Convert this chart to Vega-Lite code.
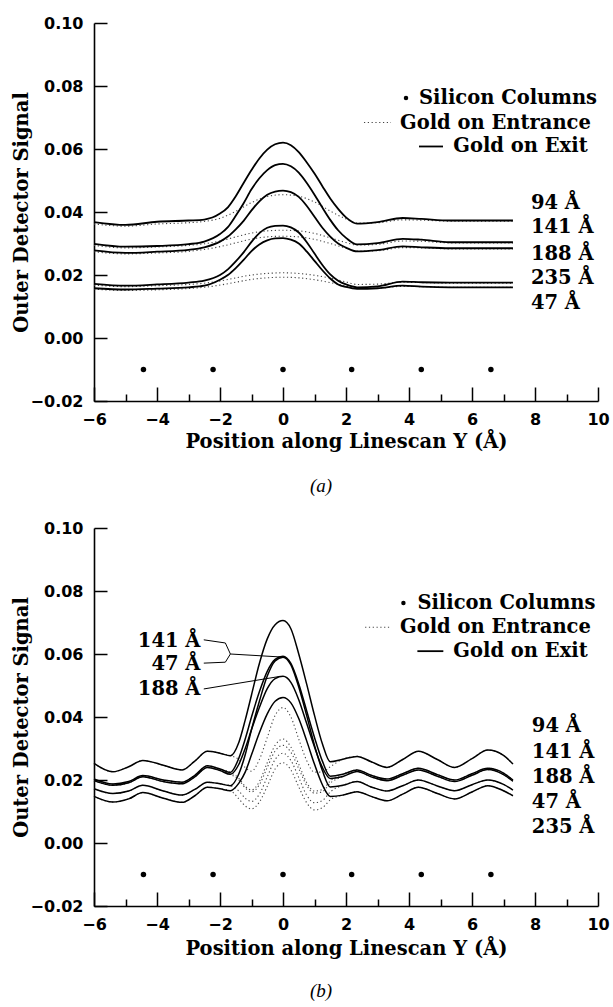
{
"$schema": "https://vega.github.io/schema/vega-lite/v6.json",
"padding": {"left": 11, "top": 15, "right": 0, "bottom": 0},
"background": "white",
"spacing": 24,
"config": {
 "view": {"stroke": null},
 "axis": {"domainColor": "black", "domainWidth": 1.6, "tickSize": 0, "gridColor": "black", "gridWidth": 1.5, "gridOpacity": 1, "labelFont": "DejaVu Sans", "labelFontWeight": "bold", "labelFontSize": 16, "labelColor": "black", "titleFont": "DejaVu Serif", "titleFontWeight": "bold", "titleFontSize": 19.5, "titleColor": "black"},
 "text": {"font": "DejaVu Serif", "fontWeight": "bold", "fontSize": 19.5, "color": "black", "baseline": "middle"},
 "title": {"font": "Liberation Serif", "fontStyle": "italic", "fontWeight": "normal", "fontSize": 19, "color": "black"}
},
"datasets": {
 "columns": [{"x": -4.43, "y": -0.01}, {"x": -2.22, "y": -0.01}, {"x": 0, "y": -0.01}, {"x": 2.18, "y": -0.01}, {"x": 4.39, "y": -0.01}, {"x": 6.6, "y": -0.01}],
 "a_exit": [
  {"s":"94","x":-6,"y":0.0368},{"s":"94","x":-5,"y":0.0359},{"s":"94","x":-4,"y":0.0369},{"s":"94","x":-3,"y":0.0373},{"s":"94","x":-2.5,"y":0.0376},{"s":"94","x":-2,"y":0.0395},{"s":"94","x":-1.75,"y":0.0415},{"s":"94","x":-1.5,"y":0.045},{"s":"94","x":-1.25,"y":0.0492},{"s":"94","x":-1,"y":0.0533},{"s":"94","x":-0.75,"y":0.057},{"s":"94","x":-0.5,"y":0.0598},{"s":"94","x":-0.25,"y":0.0615},{"s":"94","x":0,"y":0.062},{"s":"94","x":0.25,"y":0.0612},{"s":"94","x":0.5,"y":0.059},{"s":"94","x":0.75,"y":0.0558},{"s":"94","x":1,"y":0.0522},{"s":"94","x":1.25,"y":0.0482},{"s":"94","x":1.5,"y":0.0443},{"s":"94","x":1.75,"y":0.041},{"s":"94","x":2,"y":0.0383},{"s":"94","x":2.35,"y":0.0363},{"s":"94","x":3,"y":0.0368},{"s":"94","x":3.8,"y":0.0381},{"s":"94","x":4.4,"y":0.0378},{"s":"94","x":5.3,"y":0.0373},{"s":"94","x":6.3,"y":0.0373},{"s":"94","x":7.3,"y":0.0373},
  {"s":"141","x":-6,"y":0.0299},{"s":"141","x":-5,"y":0.029},{"s":"141","x":-4,"y":0.0292},{"s":"141","x":-3,"y":0.0298},{"s":"141","x":-2.5,"y":0.0306},{"s":"141","x":-2,"y":0.033},{"s":"141","x":-1.75,"y":0.0352},{"s":"141","x":-1.5,"y":0.0388},{"s":"141","x":-1.25,"y":0.0428},{"s":"141","x":-1,"y":0.0472},{"s":"141","x":-0.75,"y":0.0507},{"s":"141","x":-0.5,"y":0.0533},{"s":"141","x":-0.25,"y":0.0549},{"s":"141","x":0,"y":0.0553},{"s":"141","x":0.25,"y":0.0545},{"s":"141","x":0.5,"y":0.0525},{"s":"141","x":0.75,"y":0.0493},{"s":"141","x":1,"y":0.0455},{"s":"141","x":1.25,"y":0.0414},{"s":"141","x":1.5,"y":0.0375},{"s":"141","x":1.75,"y":0.0342},{"s":"141","x":2,"y":0.0318},{"s":"141","x":2.35,"y":0.0297},{"s":"141","x":3,"y":0.0301},{"s":"141","x":3.8,"y":0.0315},{"s":"141","x":4.4,"y":0.0312},{"s":"141","x":5.3,"y":0.0304},{"s":"141","x":6.3,"y":0.0304},{"s":"141","x":7.3,"y":0.0304},
  {"s":"188","x":-6,"y":0.0278},{"s":"188","x":-5,"y":0.027},{"s":"188","x":-4,"y":0.0274},{"s":"188","x":-3,"y":0.028},{"s":"188","x":-2.5,"y":0.0288},{"s":"188","x":-2,"y":0.0306},{"s":"188","x":-1.75,"y":0.0322},{"s":"188","x":-1.5,"y":0.0345},{"s":"188","x":-1.25,"y":0.0372},{"s":"188","x":-1,"y":0.0405},{"s":"188","x":-0.75,"y":0.0434},{"s":"188","x":-0.5,"y":0.0455},{"s":"188","x":-0.25,"y":0.0465},{"s":"188","x":0,"y":0.0468},{"s":"188","x":0.25,"y":0.0463},{"s":"188","x":0.5,"y":0.0448},{"s":"188","x":0.75,"y":0.042},{"s":"188","x":1,"y":0.0385},{"s":"188","x":1.25,"y":0.035},{"s":"188","x":1.5,"y":0.0322},{"s":"188","x":1.75,"y":0.03},{"s":"188","x":2,"y":0.0287},{"s":"188","x":2.35,"y":0.0275},{"s":"188","x":3,"y":0.0279},{"s":"188","x":3.8,"y":0.0291},{"s":"188","x":4.4,"y":0.0288},{"s":"188","x":5.3,"y":0.0285},{"s":"188","x":6.3,"y":0.0285},{"s":"188","x":7.3,"y":0.0285},
  {"s":"235","x":-6,"y":0.0172},{"s":"235","x":-5,"y":0.0166},{"s":"235","x":-4,"y":0.017},{"s":"235","x":-3,"y":0.0176},{"s":"235","x":-2.5,"y":0.0182},{"s":"235","x":-2,"y":0.02},{"s":"235","x":-1.75,"y":0.0218},{"s":"235","x":-1.5,"y":0.0243},{"s":"235","x":-1.25,"y":0.0272},{"s":"235","x":-1,"y":0.0305},{"s":"235","x":-0.75,"y":0.0333},{"s":"235","x":-0.5,"y":0.035},{"s":"235","x":-0.25,"y":0.0356},{"s":"235","x":0,"y":0.0357},{"s":"235","x":0.25,"y":0.0351},{"s":"235","x":0.5,"y":0.0335},{"s":"235","x":0.75,"y":0.0305},{"s":"235","x":1,"y":0.0268},{"s":"235","x":1.25,"y":0.0232},{"s":"235","x":1.5,"y":0.0202},{"s":"235","x":1.75,"y":0.0182},{"s":"235","x":2,"y":0.017},{"s":"235","x":2.35,"y":0.0161},{"s":"235","x":3,"y":0.0164},{"s":"235","x":3.8,"y":0.0179},{"s":"235","x":4.4,"y":0.0177},{"s":"235","x":5.3,"y":0.0176},{"s":"235","x":6.3,"y":0.0176},{"s":"235","x":7.3,"y":0.0176},
  {"s":"47","x":-6,"y":0.0158},{"s":"47","x":-5,"y":0.0154},{"s":"47","x":-4,"y":0.0157},{"s":"47","x":-3,"y":0.0161},{"s":"47","x":-2.5,"y":0.0166},{"s":"47","x":-2,"y":0.0185},{"s":"47","x":-1.75,"y":0.02},{"s":"47","x":-1.5,"y":0.0222},{"s":"47","x":-1.25,"y":0.0248},{"s":"47","x":-1,"y":0.0276},{"s":"47","x":-0.75,"y":0.0297},{"s":"47","x":-0.5,"y":0.031},{"s":"47","x":-0.25,"y":0.0316},{"s":"47","x":0,"y":0.0317},{"s":"47","x":0.25,"y":0.0312},{"s":"47","x":0.5,"y":0.03},{"s":"47","x":0.75,"y":0.0275},{"s":"47","x":1,"y":0.0245},{"s":"47","x":1.25,"y":0.0215},{"s":"47","x":1.5,"y":0.0189},{"s":"47","x":1.75,"y":0.017},{"s":"47","x":2,"y":0.0162},{"s":"47","x":2.35,"y":0.0156},{"s":"47","x":3,"y":0.0158},{"s":"47","x":3.8,"y":0.0166},{"s":"47","x":4.4,"y":0.0163},{"s":"47","x":5.3,"y":0.0161},{"s":"47","x":6.3,"y":0.0161},{"s":"47","x":7.3,"y":0.0161}
 ],
 "a_entr": [
  {"s":"94","x":-6,"y":0.0362},{"s":"94","x":-5,"y":0.0355},{"s":"94","x":-4,"y":0.0362},{"s":"94","x":-3,"y":0.0366},{"s":"94","x":-2.5,"y":0.037},{"s":"94","x":-2,"y":0.038},{"s":"94","x":-1.5,"y":0.0402},{"s":"94","x":-1,"y":0.043},{"s":"94","x":-0.5,"y":0.0449},{"s":"94","x":0,"y":0.0455},{"s":"94","x":0.5,"y":0.045},{"s":"94","x":1,"y":0.0432},{"s":"94","x":1.5,"y":0.0403},{"s":"94","x":2,"y":0.0378},{"s":"94","x":2.35,"y":0.0365},{"s":"94","x":3,"y":0.0366},{"s":"94","x":3.8,"y":0.0375},{"s":"94","x":4.4,"y":0.0374},{"s":"94","x":5.3,"y":0.0371},{"s":"94","x":6.3,"y":0.0371},{"s":"94","x":7.3,"y":0.0371},
  {"s":"141","x":-6,"y":0.0294},{"s":"141","x":-5,"y":0.0286},{"s":"141","x":-4,"y":0.0289},{"s":"141","x":-3,"y":0.0294},{"s":"141","x":-2.5,"y":0.0299},{"s":"141","x":-2,"y":0.0308},{"s":"141","x":-1.5,"y":0.0321},{"s":"141","x":-1,"y":0.0333},{"s":"141","x":-0.5,"y":0.034},{"s":"141","x":0,"y":0.0342},{"s":"141","x":0.5,"y":0.034},{"s":"141","x":1,"y":0.0332},{"s":"141","x":1.5,"y":0.0318},{"s":"141","x":2,"y":0.0303},{"s":"141","x":2.35,"y":0.0295},{"s":"141","x":3,"y":0.0297},{"s":"141","x":3.8,"y":0.0308},{"s":"141","x":4.4,"y":0.0307},{"s":"141","x":5.3,"y":0.0302},{"s":"141","x":6.3,"y":0.0302},{"s":"141","x":7.3,"y":0.0302},
  {"s":"188","x":-6,"y":0.0274},{"s":"188","x":-5,"y":0.0267},{"s":"188","x":-4,"y":0.027},{"s":"188","x":-3,"y":0.0275},{"s":"188","x":-2.5,"y":0.0281},{"s":"188","x":-2,"y":0.029},{"s":"188","x":-1.5,"y":0.0302},{"s":"188","x":-1,"y":0.0314},{"s":"188","x":-0.5,"y":0.0321},{"s":"188","x":0,"y":0.0323},{"s":"188","x":0.5,"y":0.0321},{"s":"188","x":1,"y":0.0313},{"s":"188","x":1.5,"y":0.03},{"s":"188","x":2,"y":0.0285},{"s":"188","x":2.35,"y":0.0276},{"s":"188","x":3,"y":0.0277},{"s":"188","x":3.8,"y":0.0287},{"s":"188","x":4.4,"y":0.0286},{"s":"188","x":5.3,"y":0.0283},{"s":"188","x":6.3,"y":0.0283},{"s":"188","x":7.3,"y":0.0283},
  {"s":"235","x":-6,"y":0.0168},{"s":"235","x":-5,"y":0.0163},{"s":"235","x":-4,"y":0.0166},{"s":"235","x":-3,"y":0.017},{"s":"235","x":-2.5,"y":0.0174},{"s":"235","x":-2,"y":0.0181},{"s":"235","x":-1.5,"y":0.0191},{"s":"235","x":-1,"y":0.02},{"s":"235","x":-0.5,"y":0.0205},{"s":"235","x":0,"y":0.0207},{"s":"235","x":0.5,"y":0.0205},{"s":"235","x":1,"y":0.0199},{"s":"235","x":1.5,"y":0.019},{"s":"235","x":2,"y":0.0178},{"s":"235","x":2.35,"y":0.017},{"s":"235","x":3,"y":0.0171},{"s":"235","x":3.8,"y":0.0177},{"s":"235","x":4.4,"y":0.0176},{"s":"235","x":5.3,"y":0.0174},{"s":"235","x":6.3,"y":0.0174},{"s":"235","x":7.3,"y":0.0174},
  {"s":"47","x":-6,"y":0.0155},{"s":"47","x":-5,"y":0.0151},{"s":"47","x":-4,"y":0.0153},{"s":"47","x":-3,"y":0.0157},{"s":"47","x":-2.5,"y":0.0161},{"s":"47","x":-2,"y":0.0168},{"s":"47","x":-1.5,"y":0.0177},{"s":"47","x":-1,"y":0.0186},{"s":"47","x":-0.5,"y":0.0191},{"s":"47","x":0,"y":0.0193},{"s":"47","x":0.5,"y":0.0191},{"s":"47","x":1,"y":0.0185},{"s":"47","x":1.5,"y":0.0176},{"s":"47","x":2,"y":0.0165},{"s":"47","x":2.35,"y":0.0157},{"s":"47","x":3,"y":0.0158},{"s":"47","x":3.8,"y":0.0164},{"s":"47","x":4.4,"y":0.0163},{"s":"47","x":5.3,"y":0.0161},{"s":"47","x":6.3,"y":0.0161},{"s":"47","x":7.3,"y":0.0161}
 ],
 "b_exit": [
  {"s":"94","x":-6,"y":0.0253},{"s":"94","x":-5.4,"y":0.0226},{"s":"94","x":-4.9,"y":0.0242},{"s":"94","x":-4.45,"y":0.0262},{"s":"94","x":-3.8,"y":0.0247},{"s":"94","x":-3.2,"y":0.0232},{"s":"94","x":-2.8,"y":0.026},{"s":"94","x":-2.4,"y":0.0291},{"s":"94","x":-2,"y":0.0285},{"s":"94","x":-1.67,"y":0.0277},{"s":"94","x":-1.4,"y":0.032},{"s":"94","x":-1.2,"y":0.039},{"s":"94","x":-1,"y":0.047},{"s":"94","x":-0.75,"y":0.057},{"s":"94","x":-0.5,"y":0.0648},{"s":"94","x":-0.25,"y":0.0693},{"s":"94","x":0,"y":0.0706},{"s":"94","x":0.25,"y":0.068},{"s":"94","x":0.5,"y":0.06},{"s":"94","x":0.75,"y":0.0505},{"s":"94","x":1,"y":0.0405},{"s":"94","x":1.25,"y":0.0315},{"s":"94","x":1.5,"y":0.0258},{"s":"94","x":1.9,"y":0.0266},{"s":"94","x":2.35,"y":0.0275},{"s":"94","x":2.8,"y":0.0258},{"s":"94","x":3.3,"y":0.024},{"s":"94","x":3.8,"y":0.0265},{"s":"94","x":4.3,"y":0.0291},{"s":"94","x":4.9,"y":0.0265},{"s":"94","x":5.45,"y":0.024},{"s":"94","x":6,"y":0.0268},{"s":"94","x":6.5,"y":0.0295},{"s":"94","x":7,"y":0.0278},{"s":"94","x":7.3,"y":0.0251},
  {"s":"141","x":-6,"y":0.0203},{"s":"141","x":-5.4,"y":0.0187},{"s":"141","x":-4.9,"y":0.0195},{"s":"141","x":-4.45,"y":0.0214},{"s":"141","x":-3.8,"y":0.02},{"s":"141","x":-3.2,"y":0.0193},{"s":"141","x":-2.8,"y":0.0215},{"s":"141","x":-2.4,"y":0.0245},{"s":"141","x":-2,"y":0.0235},{"s":"141","x":-1.67,"y":0.0224},{"s":"141","x":-1.4,"y":0.027},{"s":"141","x":-1.2,"y":0.033},{"s":"141","x":-1,"y":0.04},{"s":"141","x":-0.75,"y":0.048},{"s":"141","x":-0.5,"y":0.0545},{"s":"141","x":-0.25,"y":0.0583},{"s":"141","x":0,"y":0.0593},{"s":"141","x":0.25,"y":0.057},{"s":"141","x":0.5,"y":0.0505},{"s":"141","x":0.75,"y":0.042},{"s":"141","x":1,"y":0.0335},{"s":"141","x":1.25,"y":0.026},{"s":"141","x":1.5,"y":0.0212},{"s":"141","x":1.9,"y":0.0218},{"s":"141","x":2.35,"y":0.0232},{"s":"141","x":2.8,"y":0.0215},{"s":"141","x":3.3,"y":0.0203},{"s":"141","x":3.8,"y":0.022},{"s":"141","x":4.3,"y":0.0237},{"s":"141","x":4.9,"y":0.0217},{"s":"141","x":5.45,"y":0.02},{"s":"141","x":6,"y":0.022},{"s":"141","x":6.5,"y":0.0237},{"s":"141","x":7,"y":0.0222},{"s":"141","x":7.3,"y":0.02},
  {"s":"188","x":-6,"y":0.0198},{"s":"188","x":-5.4,"y":0.0183},{"s":"188","x":-4.9,"y":0.0191},{"s":"188","x":-4.45,"y":0.021},{"s":"188","x":-3.8,"y":0.0195},{"s":"188","x":-3.2,"y":0.0188},{"s":"188","x":-2.8,"y":0.021},{"s":"188","x":-2.4,"y":0.024},{"s":"188","x":-2,"y":0.023},{"s":"188","x":-1.67,"y":0.0218},{"s":"188","x":-1.4,"y":0.025},{"s":"188","x":-1.2,"y":0.03},{"s":"188","x":-1,"y":0.036},{"s":"188","x":-0.75,"y":0.043},{"s":"188","x":-0.5,"y":0.049},{"s":"188","x":-0.25,"y":0.0522},{"s":"188","x":0,"y":0.0529},{"s":"188","x":0.25,"y":0.051},{"s":"188","x":0.5,"y":0.0455},{"s":"188","x":0.75,"y":0.038},{"s":"188","x":1,"y":0.0305},{"s":"188","x":1.25,"y":0.024},{"s":"188","x":1.5,"y":0.0205},{"s":"188","x":1.9,"y":0.0211},{"s":"188","x":2.35,"y":0.0227},{"s":"188","x":2.8,"y":0.021},{"s":"188","x":3.3,"y":0.0198},{"s":"188","x":3.8,"y":0.0215},{"s":"188","x":4.3,"y":0.0232},{"s":"188","x":4.9,"y":0.0212},{"s":"188","x":5.45,"y":0.0195},{"s":"188","x":6,"y":0.0215},{"s":"188","x":6.5,"y":0.0233},{"s":"188","x":7,"y":0.0217},{"s":"188","x":7.3,"y":0.0196},
  {"s":"47","x":-6,"y":0.0172},{"s":"47","x":-5.4,"y":0.0157},{"s":"47","x":-4.9,"y":0.0165},{"s":"47","x":-4.45,"y":0.0183},{"s":"47","x":-3.8,"y":0.0165},{"s":"47","x":-3.2,"y":0.0152},{"s":"47","x":-2.8,"y":0.017},{"s":"47","x":-2.4,"y":0.0193},{"s":"47","x":-2,"y":0.0188},{"s":"47","x":-1.67,"y":0.0182},{"s":"47","x":-1.4,"y":0.022},{"s":"47","x":-1.2,"y":0.028},{"s":"47","x":-1,"y":0.036},{"s":"47","x":-0.75,"y":0.045},{"s":"47","x":-0.5,"y":0.053},{"s":"47","x":-0.25,"y":0.0578},{"s":"47","x":0,"y":0.059},{"s":"47","x":0.25,"y":0.0565},{"s":"47","x":0.5,"y":0.0495},{"s":"47","x":0.75,"y":0.0405},{"s":"47","x":1,"y":0.031},{"s":"47","x":1.25,"y":0.023},{"s":"47","x":1.5,"y":0.0178},{"s":"47","x":1.9,"y":0.0183},{"s":"47","x":2.35,"y":0.0195},{"s":"47","x":2.8,"y":0.0178},{"s":"47","x":3.3,"y":0.0165},{"s":"47","x":3.8,"y":0.0182},{"s":"47","x":4.3,"y":0.02},{"s":"47","x":4.9,"y":0.0181},{"s":"47","x":5.45,"y":0.0166},{"s":"47","x":6,"y":0.0185},{"s":"47","x":6.5,"y":0.02},{"s":"47","x":7,"y":0.0186},{"s":"47","x":7.3,"y":0.0168},
  {"s":"235","x":-6,"y":0.0148},{"s":"235","x":-5.4,"y":0.013},{"s":"235","x":-4.9,"y":0.014},{"s":"235","x":-4.45,"y":0.016},{"s":"235","x":-3.8,"y":0.0142},{"s":"235","x":-3.2,"y":0.0129},{"s":"235","x":-2.8,"y":0.015},{"s":"235","x":-2.4,"y":0.0177},{"s":"235","x":-2,"y":0.0172},{"s":"235","x":-1.67,"y":0.0166},{"s":"235","x":-1.4,"y":0.019},{"s":"235","x":-1.2,"y":0.0225},{"s":"235","x":-1,"y":0.028},{"s":"235","x":-0.75,"y":0.035},{"s":"235","x":-0.5,"y":0.041},{"s":"235","x":-0.25,"y":0.045},{"s":"235","x":0,"y":0.0462},{"s":"235","x":0.25,"y":0.0445},{"s":"235","x":0.5,"y":0.0395},{"s":"235","x":0.75,"y":0.0325},{"s":"235","x":1,"y":0.025},{"s":"235","x":1.25,"y":0.0185},{"s":"235","x":1.5,"y":0.0148},{"s":"235","x":1.9,"y":0.0152},{"s":"235","x":2.35,"y":0.0163},{"s":"235","x":2.8,"y":0.0148},{"s":"235","x":3.3,"y":0.0134},{"s":"235","x":3.8,"y":0.0155},{"s":"235","x":4.3,"y":0.0177},{"s":"235","x":4.9,"y":0.0157},{"s":"235","x":5.45,"y":0.014},{"s":"235","x":6,"y":0.0162},{"s":"235","x":6.5,"y":0.0182},{"s":"235","x":7,"y":0.0166},{"s":"235","x":7.3,"y":0.015}
 ],
 "b_entr": [
  {"s":"94","x":-6,"y":0.0253},{"s":"94","x":-5.4,"y":0.0226},{"s":"94","x":-4.9,"y":0.0242},{"s":"94","x":-4.45,"y":0.0262},{"s":"94","x":-3.8,"y":0.0247},{"s":"94","x":-3.2,"y":0.0232},{"s":"94","x":-2.8,"y":0.026},{"s":"94","x":-2.4,"y":0.0291},{"s":"94","x":-2,"y":0.0285},{"s":"94","x":-1.67,"y":0.0277},{"s":"94","x":-1.4,"y":0.0265},{"s":"94","x":-1.2,"y":0.024},{"s":"94","x":-1,"y":0.0228},{"s":"94","x":-0.75,"y":0.0265},{"s":"94","x":-0.5,"y":0.0335},{"s":"94","x":-0.25,"y":0.0405},{"s":"94","x":0,"y":0.043},{"s":"94","x":0.25,"y":0.04},{"s":"94","x":0.5,"y":0.033},{"s":"94","x":0.75,"y":0.0262},{"s":"94","x":1,"y":0.0225},{"s":"94","x":1.25,"y":0.0225},{"s":"94","x":1.5,"y":0.0242},{"s":"94","x":1.9,"y":0.0266},{"s":"94","x":2.35,"y":0.0275},{"s":"94","x":2.8,"y":0.0258},{"s":"94","x":3.3,"y":0.024},{"s":"94","x":3.8,"y":0.0265},{"s":"94","x":4.3,"y":0.0291},{"s":"94","x":4.9,"y":0.0265},{"s":"94","x":5.45,"y":0.024},{"s":"94","x":6,"y":0.0268},{"s":"94","x":6.5,"y":0.0295},{"s":"94","x":7,"y":0.0278},{"s":"94","x":7.3,"y":0.0251},
  {"s":"141","x":-6,"y":0.0203},{"s":"141","x":-5.4,"y":0.0187},{"s":"141","x":-4.9,"y":0.0195},{"s":"141","x":-4.45,"y":0.0214},{"s":"141","x":-3.8,"y":0.02},{"s":"141","x":-3.2,"y":0.0193},{"s":"141","x":-2.8,"y":0.0215},{"s":"141","x":-2.4,"y":0.0245},{"s":"141","x":-2,"y":0.0235},{"s":"141","x":-1.67,"y":0.0224},{"s":"141","x":-1.4,"y":0.0205},{"s":"141","x":-1.2,"y":0.018},{"s":"141","x":-1,"y":0.0168},{"s":"141","x":-0.75,"y":0.0195},{"s":"141","x":-0.5,"y":0.0255},{"s":"141","x":-0.25,"y":0.031},{"s":"141","x":0,"y":0.033},{"s":"141","x":0.25,"y":0.0305},{"s":"141","x":0.5,"y":0.025},{"s":"141","x":0.75,"y":0.0192},{"s":"141","x":1,"y":0.0165},{"s":"141","x":1.25,"y":0.017},{"s":"141","x":1.5,"y":0.0197},{"s":"141","x":1.9,"y":0.0218},{"s":"141","x":2.35,"y":0.0232},{"s":"141","x":2.8,"y":0.0215},{"s":"141","x":3.3,"y":0.0203},{"s":"141","x":3.8,"y":0.022},{"s":"141","x":4.3,"y":0.0237},{"s":"141","x":4.9,"y":0.0217},{"s":"141","x":5.45,"y":0.02},{"s":"141","x":6,"y":0.022},{"s":"141","x":6.5,"y":0.0237},{"s":"141","x":7,"y":0.0222},{"s":"141","x":7.3,"y":0.02},
  {"s":"188","x":-6,"y":0.0198},{"s":"188","x":-5.4,"y":0.0183},{"s":"188","x":-4.9,"y":0.0191},{"s":"188","x":-4.45,"y":0.021},{"s":"188","x":-3.8,"y":0.0195},{"s":"188","x":-3.2,"y":0.0188},{"s":"188","x":-2.8,"y":0.021},{"s":"188","x":-2.4,"y":0.024},{"s":"188","x":-2,"y":0.023},{"s":"188","x":-1.67,"y":0.0218},{"s":"188","x":-1.4,"y":0.02},{"s":"188","x":-1.2,"y":0.0175},{"s":"188","x":-1,"y":0.0162},{"s":"188","x":-0.75,"y":0.0185},{"s":"188","x":-0.5,"y":0.024},{"s":"188","x":-0.25,"y":0.0292},{"s":"188","x":0,"y":0.031},{"s":"188","x":0.25,"y":0.0288},{"s":"188","x":0.5,"y":0.0236},{"s":"188","x":0.75,"y":0.0183},{"s":"188","x":1,"y":0.0158},{"s":"188","x":1.25,"y":0.0163},{"s":"188","x":1.5,"y":0.019},{"s":"188","x":1.9,"y":0.0211},{"s":"188","x":2.35,"y":0.0227},{"s":"188","x":2.8,"y":0.021},{"s":"188","x":3.3,"y":0.0198},{"s":"188","x":3.8,"y":0.0215},{"s":"188","x":4.3,"y":0.0232},{"s":"188","x":4.9,"y":0.0212},{"s":"188","x":5.45,"y":0.0195},{"s":"188","x":6,"y":0.0215},{"s":"188","x":6.5,"y":0.0233},{"s":"188","x":7,"y":0.0217},{"s":"188","x":7.3,"y":0.0196},
  {"s":"47","x":-6,"y":0.0172},{"s":"47","x":-5.4,"y":0.0157},{"s":"47","x":-4.9,"y":0.0165},{"s":"47","x":-4.45,"y":0.0183},{"s":"47","x":-3.8,"y":0.0165},{"s":"47","x":-3.2,"y":0.0152},{"s":"47","x":-2.8,"y":0.017},{"s":"47","x":-2.4,"y":0.0193},{"s":"47","x":-2,"y":0.0188},{"s":"47","x":-1.67,"y":0.0182},{"s":"47","x":-1.4,"y":0.0165},{"s":"47","x":-1.2,"y":0.0142},{"s":"47","x":-1,"y":0.0132},{"s":"47","x":-0.75,"y":0.0155},{"s":"47","x":-0.5,"y":0.021},{"s":"47","x":-0.25,"y":0.0265},{"s":"47","x":0,"y":0.0285},{"s":"47","x":0.25,"y":0.0262},{"s":"47","x":0.5,"y":0.0208},{"s":"47","x":0.75,"y":0.0152},{"s":"47","x":1,"y":0.0128},{"s":"47","x":1.25,"y":0.0135},{"s":"47","x":1.5,"y":0.0162},{"s":"47","x":1.9,"y":0.0183},{"s":"47","x":2.35,"y":0.0195},{"s":"47","x":2.8,"y":0.0178},{"s":"47","x":3.3,"y":0.0165},{"s":"47","x":3.8,"y":0.0182},{"s":"47","x":4.3,"y":0.02},{"s":"47","x":4.9,"y":0.0181},{"s":"47","x":5.45,"y":0.0166},{"s":"47","x":6,"y":0.0185},{"s":"47","x":6.5,"y":0.02},{"s":"47","x":7,"y":0.0186},{"s":"47","x":7.3,"y":0.0168},
  {"s":"235","x":-6,"y":0.0148},{"s":"235","x":-5.4,"y":0.013},{"s":"235","x":-4.9,"y":0.014},{"s":"235","x":-4.45,"y":0.016},{"s":"235","x":-3.8,"y":0.0142},{"s":"235","x":-3.2,"y":0.0129},{"s":"235","x":-2.8,"y":0.015},{"s":"235","x":-2.4,"y":0.0177},{"s":"235","x":-2,"y":0.0172},{"s":"235","x":-1.67,"y":0.0166},{"s":"235","x":-1.4,"y":0.014},{"s":"235","x":-1.2,"y":0.0118},{"s":"235","x":-1,"y":0.0108},{"s":"235","x":-0.75,"y":0.013},{"s":"235","x":-0.5,"y":0.018},{"s":"235","x":-0.25,"y":0.0235},{"s":"235","x":0,"y":0.0255},{"s":"235","x":0.25,"y":0.0232},{"s":"235","x":0.5,"y":0.0178},{"s":"235","x":0.75,"y":0.0128},{"s":"235","x":1,"y":0.0105},{"s":"235","x":1.25,"y":0.0112},{"s":"235","x":1.5,"y":0.0137},{"s":"235","x":1.9,"y":0.0152},{"s":"235","x":2.35,"y":0.0163},{"s":"235","x":2.8,"y":0.0148},{"s":"235","x":3.3,"y":0.0134},{"s":"235","x":3.8,"y":0.0155},{"s":"235","x":4.3,"y":0.0177},{"s":"235","x":4.9,"y":0.0157},{"s":"235","x":5.45,"y":0.014},{"s":"235","x":6,"y":0.0162},{"s":"235","x":6.5,"y":0.0182},{"s":"235","x":7,"y":0.0166},{"s":"235","x":7.3,"y":0.015}
 ],
 "a_labels": [{"t":"94 Å","x":7.87,"y":0.043},{"t":"141 Å","x":7.87,"y":0.0351},{"t":"188 Å","x":7.87,"y":0.0268},{"t":"235 Å","x":7.87,"y":0.0192},{"t":"47 Å","x":7.87,"y":0.0112}],
 "b_labels": [{"t":"94 Å","x":7.9,"y":0.0371},{"t":"141 Å","x":7.9,"y":0.0289},{"t":"188 Å","x":7.9,"y":0.0209},{"t":"47 Å","x":7.9,"y":0.013},{"t":"235 Å","x":7.9,"y":0.0051}],
 "b_callouts": [{"t":"141 Å","x":-2.62,"y":0.0641},{"t":"47 Å","x":-2.62,"y":0.0568},{"t":"188 Å","x":-2.62,"y":0.0489}],
 "b_leaders": [{"id":"141","o":1,"x":-2.515,"y":0.0645},{"id":"141","o":2,"x":-1.83,"y":0.0635},{"id":"141","o":3,"x":-1.67,"y":0.06},{"id":"141","o":4,"x":0.02,"y":0.059},{"id":"47","o":1,"x":-2.515,"y":0.0571},{"id":"47","o":2,"x":-1.83,"y":0.0574},{"id":"47","o":3,"x":-1.67,"y":0.06},{"id":"188","o":1,"x":-2.515,"y":0.0489},{"id":"188","o":2,"x":-0.09,"y":0.0529}],
 "a_legend": [{"t":"Silicon Columns","x":4.317,"y":0.0762},{"t":"Gold on Entrance","x":3.714,"y":0.0684},{"t":"Gold on Exit","x":5.406,"y":0.0608}],
 "b_legend": [{"t":"Silicon Columns","x":4.266,"y":0.0762},{"t":"Gold on Entrance","x":3.715,"y":0.0685},{"t":"Gold on Exit","x":5.407,"y":0.0609}],
 "a_legsym": [{"k":"dot","x":3.905,"y":0.0762},{"k":"entr","x":2.571,"y":0.0684},{"k":"entr","x":3.429,"y":0.0684},{"k":"exit","x":4.317,"y":0.0608},{"k":"exit","x":5.079,"y":0.0608}],
 "b_legsym": [{"k":"dot","x":3.823,"y":0.0762},{"k":"entr","x":2.607,"y":0.0685},{"k":"entr","x":3.398,"y":0.0685},{"k":"exit","x":4.266,"y":0.0609},{"k":"exit","x":5.09,"y":0.0609}]
},
"vconcat": [
 {
  "width": 504, "height": 378,
  "title": {"text": "(a)", "orient": "bottom", "offset": 26, "baseline": "top", "dx": -25},
  "encoding": {
   "x": {"field": "x", "type": "quantitative", "scale": {"domain": [-6, 10], "nice": false, "zero": false},
    "axis": {"title": "Position along Linescan Y (Å)", "values": [-6,-5,-4,-3,-2,-1,0,1,2,3,4,5,6,7,8,9,10], "format": "d", "labelExpr": "datum.value % 2 === 0 ? datum.label : ''", "grid": true, "gridDash": {"condition": {"test": "datum.value % 2 !== 0", "value": [0, 371, 7, 1000]}, "value": [0, 364, 14, 1000]}, "labelFlush": false, "labelOverlap": false, "labelPadding": 10, "titlePadding": 5}},
   "y": {"field": "y", "type": "quantitative", "scale": {"domain": [-0.02, 0.1], "nice": false, "zero": false},
    "axis": {"title": "Outer Detector Signal", "values": [-0.02,0,0.02,0.04,0.06,0.08,0.1], "format": ".2f", "grid": true, "gridDash": [13, 1000], "labelPadding": 11, "labelFlush": false, "labelOverlap": false, "titleX": -73, "titleBaseline": "middle"}}
  },
  "layer": [
   {"data": {"name": "a_entr"}, "mark": {"type": "line", "interpolate": "monotone", "color": "#444", "strokeWidth": 1.1, "strokeDash": [1.2, 2.6]}, "encoding": {"detail": {"field": "s"}}},
   {"data": {"name": "a_exit"}, "mark": {"type": "line", "interpolate": "monotone", "color": "black", "strokeWidth": 1.8}, "encoding": {"detail": {"field": "s"}}},
   {"data": {"name": "columns"}, "mark": {"type": "point", "filled": true, "color": "black", "size": 30, "opacity": 1}, "encoding": {}},
   {"data": {"name": "a_labels"}, "mark": {"type": "text", "align": "left"}, "encoding": {"text": {"field": "t"}}},
   {"data": {"name": "a_legend"}, "mark": {"type": "text", "align": "left"}, "encoding": {"text": {"field": "t"}}},
   {"data": {"name": "a_legsym"}, "transform": [{"filter": "datum.k === 'dot'"}], "mark": {"type": "point", "filled": true, "color": "black", "size": 20, "opacity": 1}, "encoding": {}},
   {"data": {"name": "a_legsym"}, "transform": [{"filter": "datum.k === 'entr'"}], "mark": {"type": "line", "color": "#444", "strokeWidth": 1.1, "strokeDash": [1.2, 2.6]}, "encoding": {}},
   {"data": {"name": "a_legsym"}, "transform": [{"filter": "datum.k === 'exit'"}], "mark": {"type": "line", "color": "black", "strokeWidth": 1.8}, "encoding": {}}
  ]
 },
 {
  "width": 504, "height": 378,
  "title": {"text": "(b)", "orient": "bottom", "offset": 24, "baseline": "top", "dx": -25},
  "encoding": {
   "x": {"field": "x", "type": "quantitative", "scale": {"domain": [-6, 10], "nice": false, "zero": false},
    "axis": {"title": "Position along Linescan Y (Å)", "values": [-6,-5,-4,-3,-2,-1,0,1,2,3,4,5,6,7,8,9,10], "format": "d", "labelExpr": "datum.value % 2 === 0 ? datum.label : ''", "grid": true, "gridDash": {"condition": {"test": "datum.value % 2 !== 0", "value": [0, 371, 7, 1000]}, "value": [0, 364, 14, 1000]}, "labelFlush": false, "labelOverlap": false, "labelPadding": 10, "titlePadding": 7}},
   "y": {"field": "y", "type": "quantitative", "scale": {"domain": [-0.02, 0.1], "nice": false, "zero": false},
    "axis": {"title": "Outer Detector Signal", "values": [-0.02,0,0.02,0.04,0.06,0.08,0.1], "format": ".2f", "grid": true, "gridDash": [13, 1000], "labelPadding": 11, "labelFlush": false, "labelOverlap": false, "titleX": -73, "titleBaseline": "middle"}}
  },
  "layer": [
   {"data": {"name": "b_entr"}, "mark": {"type": "line", "interpolate": "monotone", "color": "#444", "strokeWidth": 1.1, "strokeDash": [1.2, 2.6]}, "encoding": {"detail": {"field": "s"}}},
   {"data": {"name": "b_exit"}, "mark": {"type": "line", "interpolate": "monotone", "color": "black", "strokeWidth": 1.5}, "encoding": {"detail": {"field": "s"}}},
   {"data": {"name": "columns"}, "mark": {"type": "point", "filled": true, "color": "black", "size": 30, "opacity": 1}, "encoding": {}},
   {"data": {"name": "b_labels"}, "mark": {"type": "text", "align": "left"}, "encoding": {"text": {"field": "t"}}},
   {"data": {"name": "b_callouts"}, "mark": {"type": "text", "align": "right"}, "encoding": {"text": {"field": "t"}}},
   {"data": {"name": "b_leaders"}, "mark": {"type": "line", "color": "black", "strokeWidth": 1}, "encoding": {"detail": {"field": "id"}, "order": {"field": "o"}}},
   {"data": {"name": "b_legend"}, "mark": {"type": "text", "align": "left"}, "encoding": {"text": {"field": "t"}}},
   {"data": {"name": "b_legsym"}, "transform": [{"filter": "datum.k === 'dot'"}], "mark": {"type": "point", "filled": true, "color": "black", "size": 20, "opacity": 1}, "encoding": {}},
   {"data": {"name": "b_legsym"}, "transform": [{"filter": "datum.k === 'entr'"}], "mark": {"type": "line", "color": "#444", "strokeWidth": 1.1, "strokeDash": [1.2, 2.6]}, "encoding": {}},
   {"data": {"name": "b_legsym"}, "transform": [{"filter": "datum.k === 'exit'"}], "mark": {"type": "line", "color": "black", "strokeWidth": 1.8}, "encoding": {}}
  ]
 }
]
}
